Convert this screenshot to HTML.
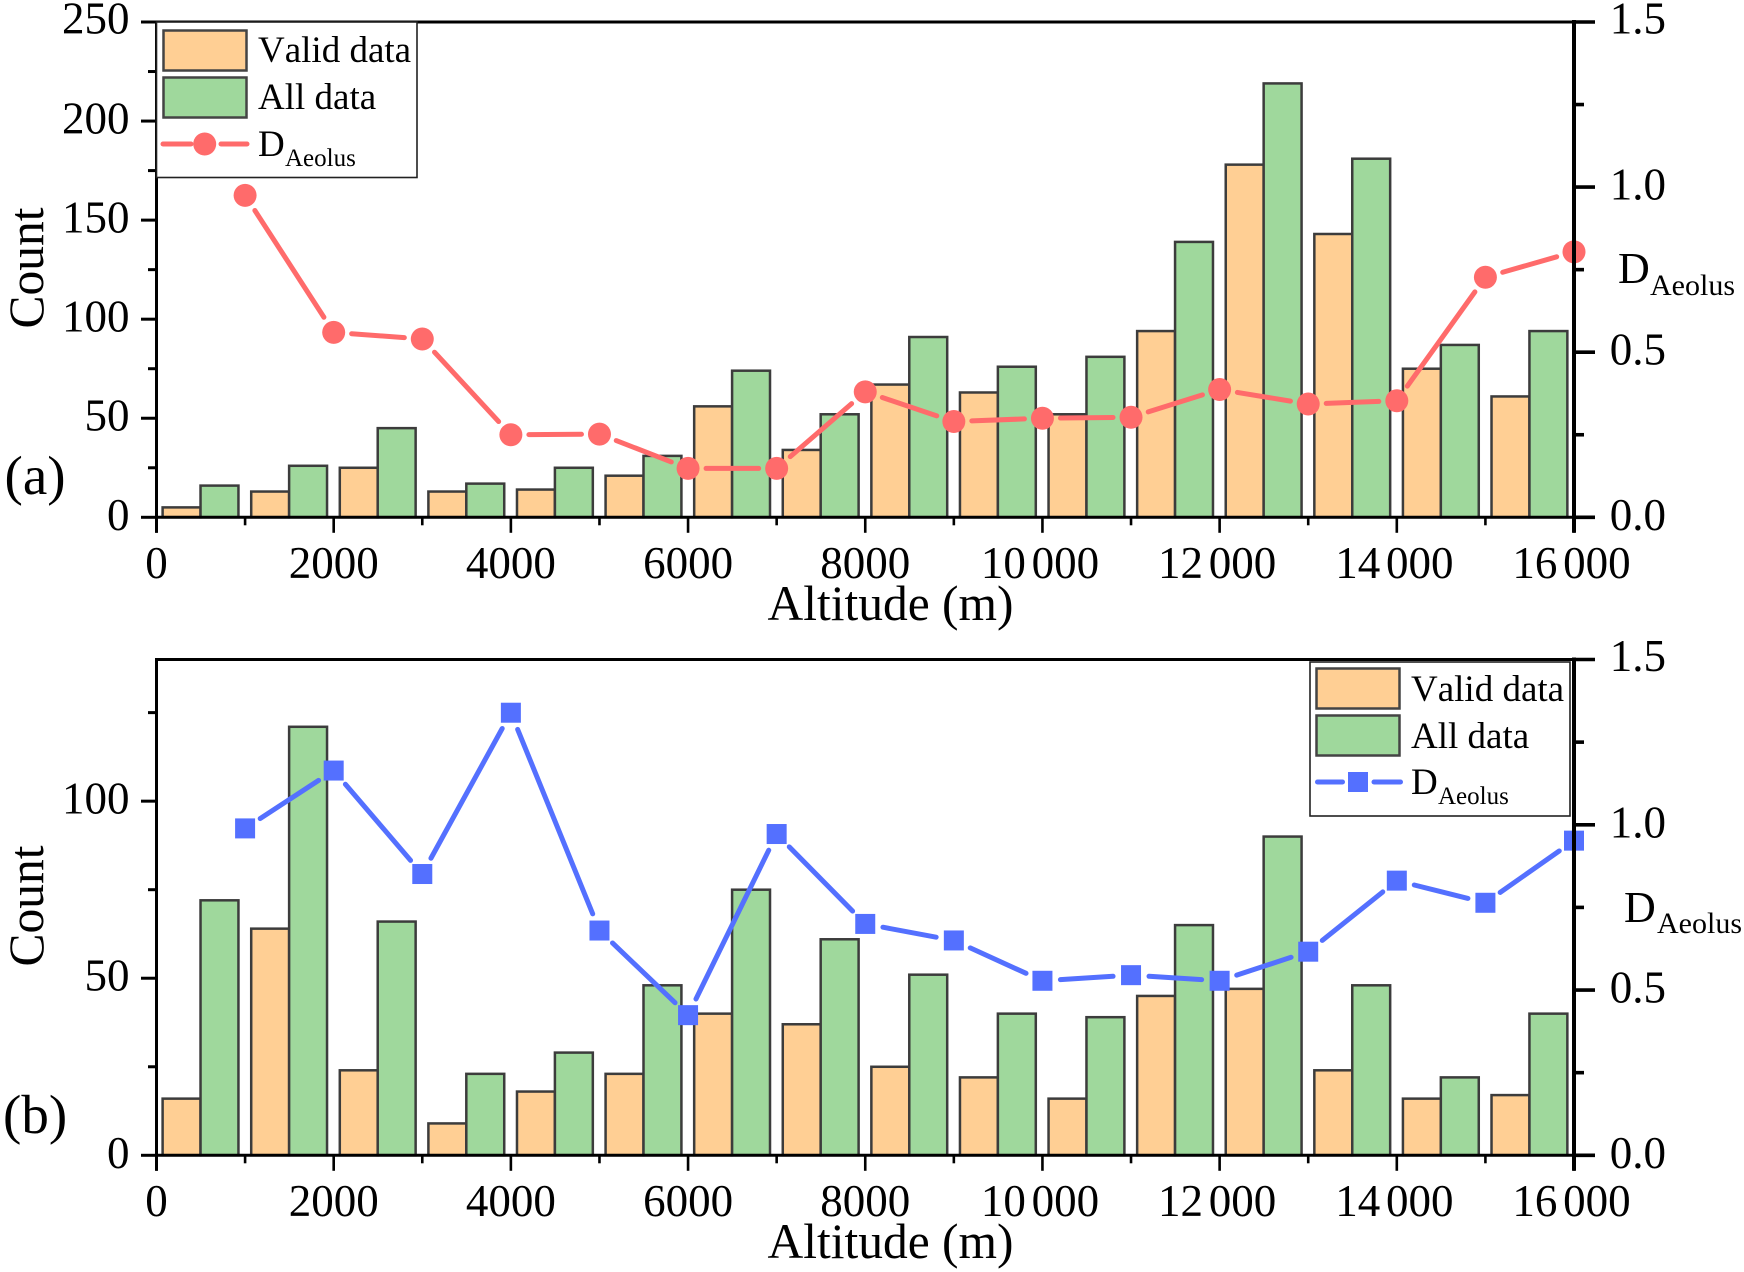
<!DOCTYPE html>
<html lang="en">
<head>
<meta charset="utf-8">
<title>Count and D-Aeolus by altitude</title>
<style>
  html, body { margin: 0; padding: 0; background: #fff; }
  #chart { display: block; width: 1744px; height: 1272px; }
  text { font-family: "Liberation Serif", "Times New Roman", serif; fill: #000; font-kerning: none; }
</style>
</head>
<body>
<svg id="chart" xmlns="http://www.w3.org/2000/svg" width="1744" height="1272" viewBox="0 0 1744 1272">
  <rect x="0" y="0" width="1744" height="1272" fill="#fff"/>

  <g id="panel-a"></g>
  <g id="panel-b"></g>

  <text x="4.5" y="494" font-size="55">(a)</text>
  <text x="3" y="1133" font-size="55">(b)</text>

  <text transform="translate(43 268) rotate(-90)" text-anchor="middle" font-size="49.5">Count</text>
  <text transform="translate(43 906) rotate(-90)" text-anchor="middle" font-size="49.5">Count</text>
  <text x="890.5" y="620" text-anchor="middle" font-size="49.5">Altitude (m)</text>
  <text x="890.5" y="1258" text-anchor="middle" font-size="49.5">Altitude (m)</text>

  <text x="1618" y="283" font-size="44">D<tspan x="1650" y="295" font-size="30">Aeolus</tspan></text>
  <text x="1624" y="922" font-size="44">D<tspan x="1657" y="933" font-size="30">Aeolus</tspan></text>

  <g>
    <rect x="156.5" y="22" width="260.5" height="155.5" fill="#fff" stroke="#222" stroke-width="1.6"/>
    <rect x="163.5" y="30.5" width="83" height="40" fill="#FFCF94" stroke="#444" stroke-width="2.5"/>
    <text x="258" y="62" font-size="37">Valid data</text>
    <rect x="163.5" y="77.5" width="83" height="40" fill="#9FD89C" stroke="#444" stroke-width="2.5"/>
    <text x="258" y="109" font-size="37">All data</text>
    <line x1="163" y1="144" x2="191" y2="144" stroke="#FF6B6B" stroke-width="5" stroke-linecap="round"/>
    <line x1="221" y1="144" x2="247" y2="144" stroke="#FF6B6B" stroke-width="5" stroke-linecap="round"/>
    <circle cx="204.7" cy="144" r="11.5" fill="#FF6B6B"/>
    <text x="258" y="156" font-size="37">D<tspan x="285" y="166" font-size="25">Aeolus</tspan></text>
  </g>

  <g>
    <rect x="1310" y="662" width="260" height="154" fill="#fff" stroke="#222" stroke-width="1.6"/>
    <rect x="1316.5" y="668.5" width="83" height="40" fill="#FFCF94" stroke="#444" stroke-width="2.5"/>
    <text x="1411" y="701" font-size="37">Valid data</text>
    <rect x="1316.5" y="715.5" width="83" height="40" fill="#9FD89C" stroke="#444" stroke-width="2.5"/>
    <text x="1411" y="748" font-size="37">All data</text>
    <line x1="1317.5" y1="782" x2="1342.5" y2="782" stroke="#5470FF" stroke-width="5" stroke-linecap="round"/>
    <line x1="1374" y1="782" x2="1400.5" y2="782" stroke="#5470FF" stroke-width="5" stroke-linecap="round"/>
    <rect x="1348" y="772" width="20" height="20" fill="#5470FF"/>
    <text x="1411" y="794" font-size="37">D<tspan x="1438" y="804" font-size="25">Aeolus</tspan></text>
  </g>
</svg>

<script>
// Chart data.
const altitudeBins = [0, 1000, 2000, 3000, 4000, 5000, 6000, 7000, 8000, 9000, 10000, 11000, 12000, 13000, 14000, 15000];
const lineAltitudes = [1000, 2000, 3000, 4000, 5000, 6000, 7000, 8000, 9000, 10000, 11000, 12000, 13000, 14000, 15000, 16000];

const validA = [5, 13, 25, 13, 14, 21, 56, 34, 67, 63, 52, 94, 178, 143, 75, 61];
const allA = [16, 26, 45, 17, 25, 31, 74, 52, 91, 76, 81, 139, 219, 181, 87, 94];
const aeolusA = [0.975, 0.56, 0.54, 0.25, 0.252, 0.148, 0.148, 0.38, 0.29, 0.30, 0.303, 0.387, 0.343, 0.353, 0.727, 0.804];

const validB = [16, 64, 24, 9, 18, 23, 40, 37, 25, 22, 16, 45, 47, 24, 16, 17];
const allB = [72, 121, 66, 23, 29, 48, 75, 61, 51, 40, 39, 65, 90, 48, 22, 40];
const aeolusB = [0.989, 1.164, 0.851, 1.339, 0.68, 0.424, 0.972, 0.70, 0.65, 0.528, 0.545, 0.528, 0.616, 0.831, 0.764, 0.952];

const xTickValues = [0, 2000, 4000, 6000, 8000, 10000, 12000, 14000, 16000];
const xTickLabels = ['0', '2000', '4000', '6000', '8000', '10 000', '12 000', '14 000', '16 000'];
const xMinorValues = [1000, 3000, 5000, 7000, 9000, 11000, 13000, 15000];

const countTicksA = [0, 50, 100, 150, 200, 250];
const countMinorA = [25, 75, 125, 175, 225];
const countTicksB = [0, 50, 100];
const countMinorB = [25, 75, 125];

const rightTicks = [0, 0.5, 1, 1.5];
const rightTickLabels = ['0.0', '0.5', '1.0', '1.5'];
const rightMinor = [0.25, 0.75, 1.25];

const NS = 'http://www.w3.org/2000/svg';
const BAR_WIDTH = 428;
const BAR_CENTER = 497;

function mk(parent, tag, attrs) {
  const el = document.createElementNS(NS, tag);
  for (const k in attrs) el.setAttribute(k, attrs[k]);
  parent.appendChild(el);
  return el;
}

function drawPanel(root, prefix, p) {
  const xLeft = 156.5, xRight = 1574;
  const xScale = v => xLeft + (v / 16000) * (xRight - xLeft);
  const yCount = v => p.yBase - (v / p.countMax) * (p.yBase - p.yTop);
  const yRight = v => p.yBase - (v / 1.5) * (p.yBase - p.yTop);
  const labelY = y => y + 12.5 - (y === p.yTop ? 1 : 0);

  // Bars
  altitudeBins.forEach((bin, i) => {
    const barValid = mk(root, 'rect', {
      x: xScale(bin + BAR_CENTER - BAR_WIDTH),
      y: yCount(p.valid[i]),
      width: xScale(BAR_WIDTH) - xLeft,
      height: p.yBase - yCount(p.valid[i]),
      fill: '#FFCF94', stroke: '#3c3c3c', 'stroke-width': 2.5
    });
    
    

    const barAll = mk(root, 'rect', {
      x: xScale(bin + BAR_CENTER),
      y: yCount(p.all[i]),
      width: xScale(BAR_WIDTH) - xLeft,
      height: p.yBase - yCount(p.all[i]),
      fill: '#9FD89C', stroke: '#3c3c3c', 'stroke-width': 2.5
    });
    
    
  });

  // Line segments with a visible gap around each marker
  const gap = 18;
  for (let i = 0; i < lineAltitudes.length - 1; i++) {
    const x1 = xScale(lineAltitudes[i]), y1 = yRight(p.line[i]);
    const x2 = xScale(lineAltitudes[i + 1]), y2 = yRight(p.line[i + 1]);
    const len = Math.hypot(x2 - x1, y2 - y1);
    const ux = (x2 - x1) / len, uy = (y2 - y1) / len;
    const seg = mk(root, 'line', {
      x1: x1 + ux * gap, y1: y1 + uy * gap,
      x2: x2 - ux * gap, y2: y2 - uy * gap,
      stroke: p.color, 'stroke-width': 5, 'stroke-linecap': 'round'
    });
    
    
  }

  // Markers
  lineAltitudes.forEach((alt, i) => {
    const cx = xScale(alt), cy = yRight(p.line[i]);
    let m;
    if (p.marker === 'circle') {
      m = mk(root, 'circle', { cx: cx, cy: cy, r: 11.5, fill: p.color });
    } else {
      m = mk(root, 'rect', { x: cx - 10, y: cy - 10, width: 20, height: 20, fill: p.color });
    }
    
    
  });

  // Frame
  const top = mk(root, 'line', { x1: xLeft - 1.5, y1: p.yTop, x2: xRight, y2: p.yTop, stroke: '#000', 'stroke-width': 3 });
  
  

  const bottom = mk(root, 'line', { x1: xLeft, y1: p.yBase, x2: xRight, y2: p.yBase, stroke: '#000', 'stroke-width': 3 });
  
  

  const left = mk(root, 'line', { x1: xLeft, y1: p.yTop - 1.5, x2: xLeft, y2: p.yBase + 15.5, stroke: '#000', 'stroke-width': 3 });
  
  

  const right = mk(root, 'line', { x1: xRight, y1: p.yTop - 2, x2: xRight, y2: p.yBase + 15.5, stroke: '#000', 'stroke-width': 4 });
  
  

  // X ticks
  xTickValues.forEach((v, i) => {
    const x = xScale(v);
    const t = mk(root, 'line', { x1: x, y1: p.yBase, x2: x, y2: p.yBase + 15.5, stroke: '#000', 'stroke-width': 2.6 });
    
    

    const nudge = xTickLabels[i].includes(' ') ? 2.5 : 0;
    const label = mk(root, 'text', { x: x - nudge, y: p.yBase + 60.5, 'text-anchor': 'middle', 'font-size': 45, 'word-spacing': '-5.5px' });
    label.textContent = xTickLabels[i];
    
    
  });
  xMinorValues.forEach(v => {
    const x = xScale(v);
    const t = mk(root, 'line', { x1: x, y1: p.yBase, x2: x, y2: p.yBase + 8, stroke: '#000', 'stroke-width': 2.6 });
    
    
  });

  // Left count axis
  p.countTicks.forEach(v => {
    const y = yCount(v);
    const t = mk(root, 'line', { x1: xLeft - 15.5, y1: y, x2: xLeft, y2: y, stroke: '#000', 'stroke-width': 3 });
    
    

    const label = mk(root, 'text', { x: 129.5, y: labelY(y), 'text-anchor': 'end', 'font-size': 45 });
    label.textContent = String(v);
    
    
  });
  p.countMinor.forEach(v => {
    const y = yCount(v);
    const t = mk(root, 'line', { x1: xLeft - 8.5, y1: y, x2: xLeft, y2: y, stroke: '#000', 'stroke-width': 3 });
    
    
  });

  // Right D-Aeolus axis
  rightTicks.forEach((v, i) => {
    const y = yRight(v);
    const t = mk(root, 'line', { x1: xRight, y1: y, x2: xRight + 21, y2: y, stroke: '#000', 'stroke-width': 3.6 });
    
    

    const label = mk(root, 'text', { x: 1666, y: labelY(y), 'text-anchor': 'end', 'font-size': 45 });
    label.textContent = rightTickLabels[i];
    
    
  });
  rightMinor.forEach(v => {
    const y = yRight(v);
    const t = mk(root, 'line', { x1: xRight, y1: y, x2: xRight + 10, y2: y, stroke: '#000', 'stroke-width': 3.6 });
    
    
  });
}

drawPanel(document.getElementById('panel-a'), 'a', {
  yTop: 22, yBase: 517.3, countMax: 250,
  valid: validA, all: allA, line: aeolusA,
  color: '#FF6B6B', marker: 'circle',
  countTicks: countTicksA, countMinor: countMinorA
});

drawPanel(document.getElementById('panel-b'), 'b', {
  yTop: 659.5, yBase: 1155.3, countMax: 140,
  valid: validB, all: allB, line: aeolusB,
  color: '#5470FF', marker: 'square',
  countTicks: countTicksB, countMinor: countMinorB
});
</script>
</body>
</html>
